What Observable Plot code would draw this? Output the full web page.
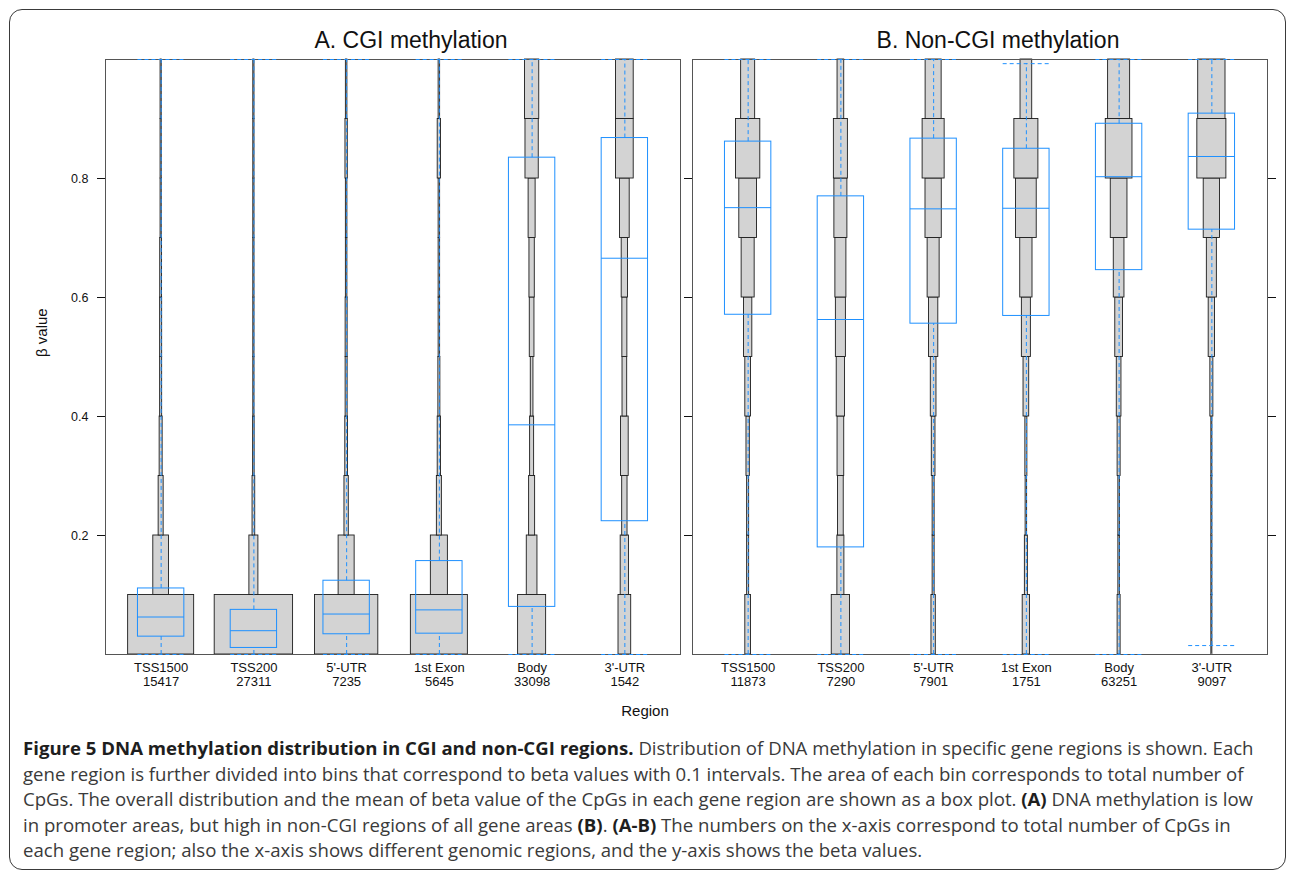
<!DOCTYPE html>
<html>
<head>
<meta charset="utf-8">
<script src="https://cdn.jsdelivr.net/npm/d3@7"></script>
<script src="https://cdn.jsdelivr.net/npm/@observablehq/plot@0.6"></script>
<style>
  body { margin: 0; background: #fff; }
  #fig { position: relative; width: 1290px; height: 873px; overflow: hidden; background: #fff; }
  #border { position: absolute; left: 9px; top: 9px; width: 1275px; height: 859px; border: 1.4px solid #3a3a3a; border-radius: 13px; }
  #chart { position: absolute; left: 0; top: 0; }
  #xlabel { position: absolute; left: 0; top: 703px; width: 1290px; text-align: center; font: 15px/15px "Liberation Sans", Arial, sans-serif; color: #111; }
  #caption { position: absolute; left: 23px; top: 735px; font-family: "Open Sans", sans-serif; font-size: 18.6px; line-height: 25.5px; color: #3a3a3a; letter-spacing: 0; }
  #caption div { white-space: nowrap; }
  #caption b { color: #1e1e1e; font-weight: 700; }
</style>
</head>
<body>
<div id="fig">
  <div id="border"></div>
  <div id="chart"></div>
  <div id="xlabel">Region</div>
  <div id="caption">
    <div><b>Figure 5 DNA methylation distribution in CGI and non-CGI regions.</b> Distribution of DNA methylation in specific gene regions is shown. Each</div>
    <div>gene region is further divided into bins that correspond to beta values with 0.1 intervals. The area of each bin corresponds to total number of</div>
    <div>CpGs. The overall distribution and the mean of beta value of the CpGs in each gene region are shown as a box plot. <b>(A)</b> DNA methylation is low</div>
    <div>in promoter areas, but high in non-CGI regions of all gene areas <b>(B)</b>. <b>(A-B)</b> The numbers on the x-axis correspond to total number of CpGs in</div>
    <div>each gene region; also the x-axis shows different genomic regions, and the y-axis shows the beta values.</div>
  </div>
</div>
<script>
// ---- data ----
const regions = ["TSS1500", "TSS200", "5'-UTR", "1st Exon", "Body", "3'-UTR"];
const panels = ["A", "B"];
const panelTitles = ["A. CGI methylation", "B. Non-CGI methylation"];
const countsA = [15417, 27311, 7235, 5645, 33098, 1542];
const countsB = [11873, 7290, 7901, 1751, 63251, 9097];
const binStarts = [0, 0.1, 0.2, 0.3, 0.4, 0.5, 0.6, 0.7, 0.8, 0.9];
const binSize = 0.1;

// relative bin widths (share of CpGs), bins 0-0.1 ... 0.9-1.0
const binsA = [
  [0.791, 0.188, 0.060, 0.036, 0.024, 0.024, 0.022, 0.014, 0.014, 0.014],
  [0.939, 0.108, 0.032, 0.018, 0.014, 0.014, 0.014, 0.014, 0.014, 0.014],
  [0.759, 0.192, 0.052, 0.032, 0.024, 0.024, 0.018, 0.018, 0.028, 0.018],
  [0.683, 0.204, 0.060, 0.040, 0.024, 0.018, 0.018, 0.018, 0.040, 0.018],
  [0.336, 0.128, 0.072, 0.048, 0.032, 0.056, 0.064, 0.084, 0.159, 0.171],
  [0.152, 0.100, 0.064, 0.092, 0.056, 0.060, 0.076, 0.116, 0.212, 0.212]
];
const binsB = [
  [0.068, 0.024, 0.024, 0.040, 0.068, 0.100, 0.156, 0.212, 0.291, 0.168],
  [0.219, 0.084, 0.068, 0.080, 0.100, 0.120, 0.132, 0.156, 0.168, 0.080],
  [0.052, 0.024, 0.024, 0.044, 0.068, 0.112, 0.144, 0.195, 0.264, 0.192],
  [0.088, 0.036, 0.018, 0.024, 0.068, 0.108, 0.147, 0.248, 0.288, 0.140],
  [0.036, 0.018, 0.018, 0.036, 0.056, 0.092, 0.128, 0.200, 0.320, 0.264],
  [0.012, 0.012, 0.012, 0.012, 0.036, 0.076, 0.120, 0.195, 0.348, 0.327]
];

// box plot statistics of beta values
const q1A  = [0.030, 0.011, 0.034, 0.035, 0.080, 0.224];
const medA = [0.063, 0.040, 0.068, 0.075, 0.386, 0.666];
const q3A  = [0.111, 0.075, 0.124, 0.157, 0.835, 0.868];
const minA = [0, 0, 0, 0, 0, 0];
const maxA = [1, 1, 1, 1, 1, 1];
const q1B  = [0.571, 0.180, 0.556, 0.569, 0.646, 0.714];
const medB = [0.751, 0.563, 0.749, 0.750, 0.803, 0.837];
const q3B  = [0.862, 0.770, 0.867, 0.850, 0.892, 0.909];
const minB = [0, 0, 0, 0, 0, 0.015];
const maxB = [1, 1, 1, 0.993, 1, 1];

const yTicks = [0.2, 0.4, 0.6, 0.8];

// ---- tables ----
const binTable = [];
const boxTable = [];
const labelTable = [];
const sets = {
  A: {bins: binsA, counts: countsA, q1: q1A, med: medA, q3: q3A, min: minA, max: maxA},
  B: {bins: binsB, counts: countsB, q1: q1B, med: medB, q3: q3B, min: minB, max: maxB}
};
for (const p of panels) {
  const s = sets[p];
  regions.forEach((r, i) => {
    const pos = i + 1;
    binStarts.forEach((lo, b) => {
      binTable.push({panel: p, pos, lo, hi: lo + binSize, share: s.bins[i][b]});
    });
    boxTable.push({panel: p, pos, q1: s.q1[i], med: s.med[i], q3: s.q3[i], min: s.min[i], max: s.max[i]});
    labelTable.push({panel: p, pos, text: r + "\n" + s.counts[i]});
  });
}
const titleTable = panels.map((p, i) => ({panel: p, title: panelTitles[i]}));

const binHalf = 0.45;   // x units per unit share (half)
const boxHalf = 0.25;
const blue = "#1e90ff";
const dash = "4,3";

const chart = Plot.plot({
  width: 1290,
  height: 730,
  marginTop: 59,
  marginBottom: 76,
  marginLeft: 105,
  marginRight: 23,
  style: {fontFamily: "'Liberation Sans', Arial, sans-serif", fontSize: "12px", color: "#111", background: "transparent"},
  fx: {domain: panels, paddingInner: 12 / 587, paddingOuter: 0, axis: null, label: null},
  x: {domain: [0.4, 6.6], axis: null},
  y: {domain: [0, 1], axis: null},
  marks: [
    Plot.rect(binTable, {
      fx: "panel",
      x1: d => d.pos - d.share * binHalf,
      x2: d => d.pos + d.share * binHalf,
      y1: "lo", y2: "hi",
      fill: "#d3d3d3", stroke: "#1c1c1c", strokeWidth: 0.9
    }),
    Plot.frame({stroke: "#555", strokeWidth: 1}),
    Plot.ruleX(boxTable, {fx: "panel", x: "pos", y1: "q3", y2: "max", stroke: blue, strokeDasharray: dash}),
    Plot.ruleX(boxTable, {fx: "panel", x: "pos", y1: "min", y2: "q1", stroke: blue, strokeDasharray: dash}),
    Plot.ruleY(boxTable, {fx: "panel", y: "max", x1: d => d.pos - boxHalf, x2: d => d.pos + boxHalf, stroke: blue, strokeDasharray: dash}),
    Plot.ruleY(boxTable, {fx: "panel", y: "min", x1: d => d.pos - boxHalf, x2: d => d.pos + boxHalf, stroke: blue, strokeDasharray: dash}),
    Plot.rect(boxTable, {fx: "panel", x1: d => d.pos - boxHalf, x2: d => d.pos + boxHalf, y1: "q1", y2: "q3", fill: "none", stroke: blue, strokeWidth: 1}),
    Plot.ruleY(boxTable, {fx: "panel", y: "med", x1: d => d.pos - boxHalf, x2: d => d.pos + boxHalf, stroke: blue, strokeWidth: 1}),
    // y ticks on every panel (left), labels only on panel A, right ticks on panel B
    Plot.axisY({anchor: "left", facetAnchor: null, ticks: yTicks, tickSize: 8, tickFormat: () => "", label: null}),
    Plot.axisY({anchor: "left", facetAnchor: "left", ticks: yTicks, tickSize: 8, tickPadding: 9, tickFormat: d => d.toFixed(1), fontSize: 12.5, label: null}),
    Plot.axisY({anchor: "right", facetAnchor: "right", ticks: yTicks, tickSize: 8, tickFormat: () => "", label: null}),
    // panel titles
    Plot.text(titleTable, {fx: "panel", text: "title", frameAnchor: "top", lineAnchor: "bottom", dy: -12, dx: 18, fontSize: 23}),
    // region / count labels
    Plot.text(labelTable, {fx: "panel", x: "pos", text: "text", frameAnchor: "bottom", lineAnchor: "top", dy: 7.5, fontSize: 13, lineHeight: 1.1}),
    // y label
    Plot.text([{panel: "A"}], {fx: "panel", frameAnchor: "left", text: () => "β value", rotate: -90, dx: -63, fontSize: 15})
  ]
});
document.getElementById("chart").appendChild(chart);
</script>
</body>
</html>
